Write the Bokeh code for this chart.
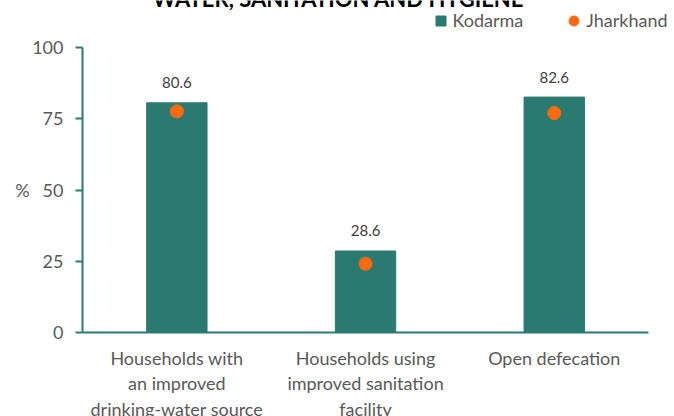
from bokeh.plotting import figure
from bokeh.models import Range1d, FixedTicker, Legend, LegendItem, ColumnDataSource, LinearAxis
from bokeh.embed import file_html
from bokeh.resources import INLINE
from bokeh.core.properties import value

title_text = "WATER, SANITATION AND HYGIENE"
categories = [
    "Households with\nan improved\ndrinking-water source",
    "Households using\nimproved sanitation\nfacility",
    "Open defecation",
]
kodarma = [80.6, 28.6, 82.6]
jharkhand = [77.6, 24.1, 77.0]
y_ticks = [0, 25, 50, 75, 100]
y_label = "%"
series_names = ["Kodarma", "Jharkhand"]

FONT = "Lato"
TEAL = "#2B7A72"
ORANGE = "#FF6A0E"
GRAY = "#595959"
DARK = "#404040"

W, H = 674, 416
# pixel layout of the plot area (page pixels)
X_LEFT, X_BAND = 82.0, 188.7        # y-axis position, width of one category band
Y_ZERO, Y_UNIT = 332.0, 2.85        # pixel of y=0, pixels per unit

x_of_px = lambda px: (px - X_LEFT) / X_BAND - 0.5
y_of_px = lambda py: (Y_ZERO - py) / Y_UNIT

xs = list(range(len(categories)))
src = ColumnDataSource(dict(
    x=xs, k=kodarma, j=jharkhand,
    klab=[f"{v:.1f}" for v in kodarma],
))

# category label lines
lx, ltext, loff = [], [], []
for i, cat in enumerate(categories):
    for n, line in enumerate(cat.split("\n")):
        lx.append(i)
        ltext.append(line)
        loff.append(25 + 25.5 * n)
lab_src = ColumnDataSource(dict(x=lx, y=[0] * len(lx), t=ltext, off=loff))

p = figure(
    width=W, height=H,
    x_range=Range1d(x_of_px(0), x_of_px(W)),
    y_range=Range1d(y_of_px(H), y_of_px(0)),
    output_backend="svg", toolbar_location=None,
    min_border_left=0, min_border_right=0, min_border_top=0, min_border_bottom=0,
    x_axis_type=None, y_axis_type=None,
)
p.outline_line_color = None
p.xgrid.visible = False
p.ygrid.visible = False
p.background_fill_color = "white"
p.border_fill_color = "white"

bars = p.vbar(x="x", top="k", width=0.32, source=src, fill_color=TEAL, line_color=TEAL)
dots = p.scatter(x="x", y="j", size=13, source=src, fill_color=ORANGE, line_color=ORANGE)
p.text(x="x", y="k", text="klab", source=src, text_align="center", text_baseline="alphabetic",
       y_offset=-20, text_font=value(FONT), text_font_size="15px", text_color=DARK)

# axes, fixed at the plot-area edges
yax = LinearAxis(fixed_location=-0.5, bounds=(0, 100), ticker=FixedTicker(ticks=y_ticks))
yax.axis_line_color = TEAL
yax.axis_line_width = 2
yax.major_tick_line_color = TEAL
yax.major_tick_line_width = 2
yax.major_tick_out = 7
yax.major_tick_in = 0
yax.minor_tick_line_color = None
yax.major_label_standoff = 12
yax.major_label_text_font = FONT
yax.major_label_text_font_size = "18px"
yax.major_label_text_color = GRAY
p.add_layout(yax, "left")

xax = LinearAxis(fixed_location=0, bounds=(-0.5, len(categories) - 0.5), ticker=FixedTicker(ticks=[]))
xax.axis_line_color = TEAL
xax.axis_line_width = 2
xax.major_tick_line_color = None
xax.minor_tick_line_color = None
xax.major_label_text_font_size = "0px"
p.add_layout(xax, "below")

# axis title "%"
p.text(x=[-0.5], y=[50], text=[y_label], x_offset=-60, text_align="center", text_baseline="middle",
       text_font=value(FONT), text_font_size="18px", text_color=GRAY)

# category labels
p.text(x="x", y="y", text="t", y_offset="off", source=lab_src, text_align="center",
       text_baseline="middle", text_font=value(FONT), text_font_size="18px", text_color=GRAY)

# chart title (cut at the top edge, as in the reference)
p.text(x=[x_of_px(338)], y=[y_of_px(-2)], text=[title_text], text_align="center",
       text_baseline="alphabetic", text_font=value(FONT), text_font_size="22px",
       text_font_style="bold", text_color="black")

# legend swatches (drawn off-screen; used only for the legend)
leg_k = p.scatter(x=[-100], y=[-1000], marker="square", fill_color=TEAL, line_color=TEAL)
leg_j = p.scatter(x=[-100], y=[-1000], marker="circle", fill_color=ORANGE, line_color=ORANGE)
leg = Legend(items=[LegendItem(label=series_names[0], renderers=[leg_k]),
                    LegendItem(label=series_names[1], renderers=[leg_j])],
             location=(427.5, H - 32.5), orientation="horizontal",
             glyph_width=25, glyph_height=25, label_standoff=-4, spacing=38,
             padding=0, margin=0, border_line_color=None, background_fill_alpha=0,
             label_text_font=FONT, label_text_font_size="18px", label_text_color=GRAY)
p.add_layout(leg, "center")

open("out.html", "w").write(file_html(p, INLINE))
